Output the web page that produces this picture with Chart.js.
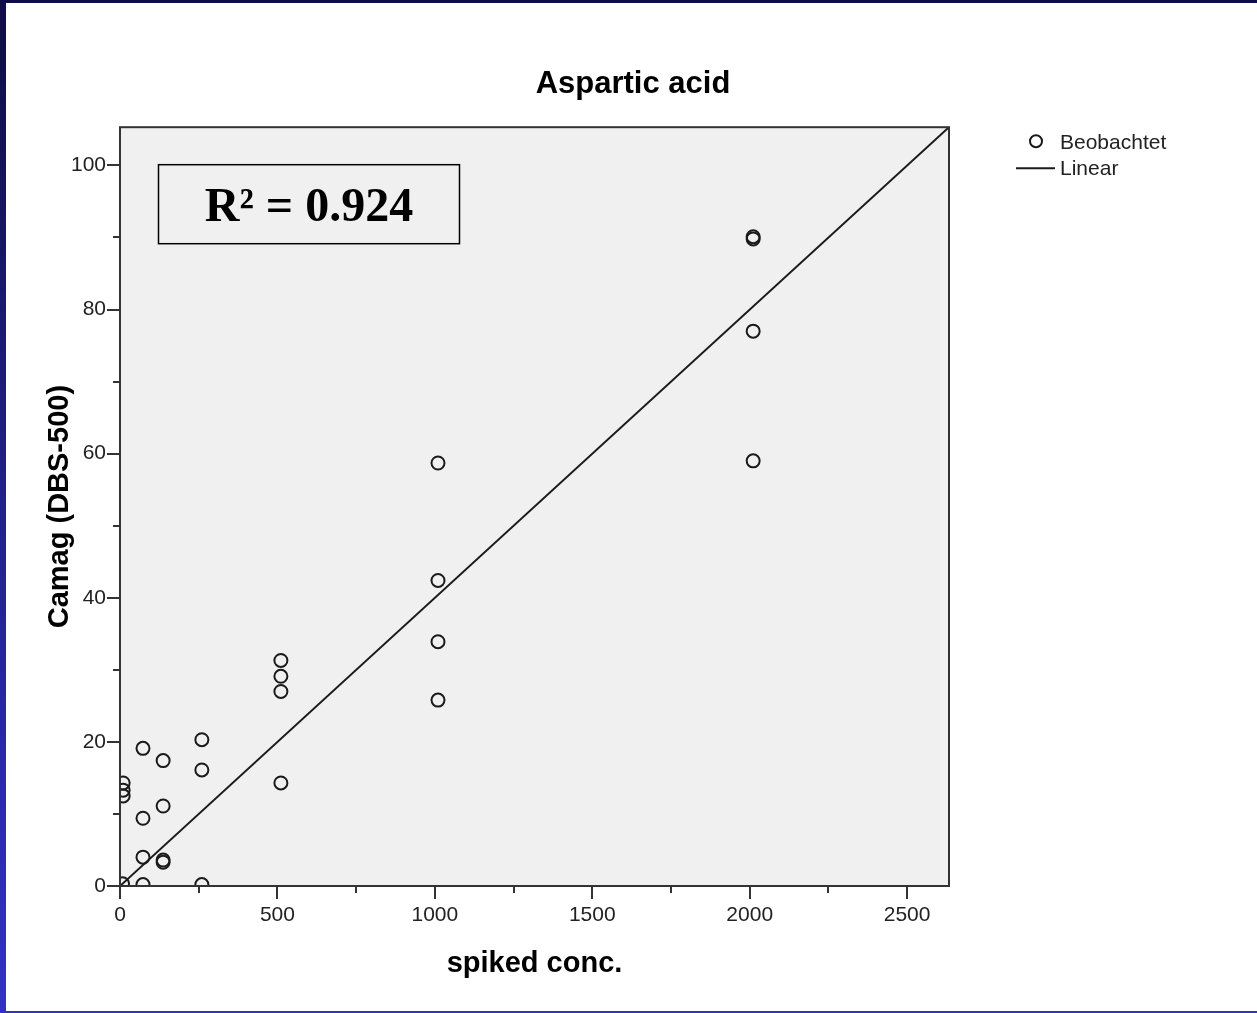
<head>
    <title>Aspartic acid</title>
    <style>
        body { margin: 0; background: #fff; overflow: hidden; }
        #myChart { position: absolute; left: 0; top: 0; }
        .band { position: absolute; }
    </style>
</head>

<body>

    <canvas id="myChart" width="1257" height="1013"></canvas>
    <div class="band" style="left:0; top:0; width:1257px; height:3px; background:#0f0c46;"></div>
    <div class="band" style="left:0; top:0; width:6px; height:1013px; background:linear-gradient(#0f0c46, #22208c 50%, #3232c2);"></div>
    <div class="band" style="left:0; top:1011px; width:1257px; height:2px; background:#3333bb;"></div>

    <script src="https://cdn.jsdelivr.net/npm/chart.js"></script>

    <script>
        // values
        const spikedConc = [8, 10, 10, 10, 73, 73, 73, 73, 137, 137, 137, 137, 260, 260, 260, 511, 511, 511, 511, 1010, 1010, 1010, 1010, 2011, 2011, 2011, 2011];
        const camag      = [0.3, 14.3, 13.3, 12.5, 19.1, 9.4, 4.0, 0.2, 17.4, 11.1, 3.6, 3.3, 20.3, 16.1, 0.2, 31.3, 29.1, 27.0, 14.3, 58.7, 42.4, 33.9, 25.8, 90.1, 89.8, 77.0, 59.0];

        // fitted line end points (as drawn)
        const fitX = [0, 2633];
        const fitY = [0, 105.3];

        const xTicks = [0, 250, 500, 750, 1000, 1250, 1500, 1750, 2000, 2250, 2500];
        const yTicks = [0, 10, 20, 30, 40, 50, 60, 70, 80, 90, 100];
        const xMax = 2633;
        const yMax = 105.3;
        const rSquared = "R\u00B2 = 0.924";

        const ink = "#1a1a1a";
        Chart.defaults.font.family = "'Liberation Sans', Arial, sans-serif";
        Chart.defaults.color = "#222";

        const points = spikedConc.map((x, i) => ({x: x, y: camag[i]}));
        const fitLine = fitX.map((x, i) => ({x: x, y: fitY[i]}));

        const plotDeco = {
            id: "plotDeco",
            beforeDatasetsDraw(chart) {
                const {ctx, chartArea: a} = chart;
                ctx.save();
                ctx.fillStyle = "#f0f0f0";
                ctx.fillRect(a.left, a.top, a.right - a.left, a.bottom - a.top);
                ctx.restore();
            },
            afterDatasetsDraw(chart) {
                const {ctx, chartArea: a} = chart;
                const xs = chart.scales.x, ys = chart.scales.y;
                ctx.save();

                // frame
                ctx.strokeStyle = "#333";
                ctx.lineWidth = 2;
                ctx.strokeRect(a.left, a.top, a.right - a.left, a.bottom - a.top);

                // minor ticks
                ctx.beginPath();
                xTicks.filter(v => v % 500 !== 0).forEach(v => {
                    const px = Math.round(xs.getPixelForValue(v));
                    ctx.moveTo(px, a.bottom);
                    ctx.lineTo(px, a.bottom + 7);
                });
                yTicks.filter(v => v % 20 !== 0).forEach(v => {
                    const py = Math.round(ys.getPixelForValue(v));
                    ctx.moveTo(a.left - 7, py);
                    ctx.lineTo(a.left, py);
                });
                ctx.stroke();

                // R² box
                const bx = a.left + 38, by = a.top + 37;
                ctx.strokeStyle = "#000";
                ctx.lineWidth = 1.5;
                ctx.strokeRect(bx + 0.5, by + 0.5, 301, 79);
                ctx.fillStyle = "#000";
                ctx.font = "bold 48px 'Liberation Serif', 'Times New Roman', serif";
                ctx.textAlign = "center";
                ctx.textBaseline = "alphabetic";
                ctx.fillText(rSquared, bx + 151, by + 57);

                // legend
                const lx = a.right + 67;
                ctx.strokeStyle = ink;
                ctx.lineWidth = 2;
                ctx.beginPath();
                ctx.arc(lx + 20, a.top + 14, 6, 0, Math.PI * 2);
                ctx.stroke();
                ctx.beginPath();
                ctx.moveTo(lx, a.top + 41);
                ctx.lineTo(lx + 39, a.top + 41);
                ctx.stroke();
                ctx.fillStyle = "#222";
                ctx.font = "21px 'Liberation Sans', Arial, sans-serif";
                ctx.textAlign = "left";
                ctx.textBaseline = "middle";
                ctx.fillText(chart.data.datasets[0].label, lx + 44, a.top + 16);
                ctx.fillText(chart.data.datasets[1].label, lx + 44, a.top + 42);

                ctx.restore();
            }
        };

        new Chart(document.getElementById("myChart"), {
            type: "scatter",
            data: {
                datasets: [
                    {
                        label: "Beobachtet",
                        data: points,
                        pointRadius: 6.5,
                        pointHoverRadius: 6.5,
                        pointBorderWidth: 2,
                        borderColor: ink,
                        backgroundColor: "rgba(0,0,0,0)",
                        clip: 0
                    },
                    {
                        label: "Linear",
                        type: "line",
                        data: fitLine,
                        borderColor: ink,
                        borderWidth: 2,
                        pointRadius: 0,
                        fill: false,
                        clip: 0
                    }
                ]
            },
            options: {
                responsive: false,
                devicePixelRatio: 1,
                animation: false,
                layout: {
                    padding: {left: 9, top: 0, right: 0, bottom: 0}
                },
                scales: {
                    x: {
                        type: "linear",
                        min: 0,
                        max: xMax,
                        afterBuildTicks: s => { s.ticks = xTicks.map(v => ({value: v})); },
                        afterFit: s => { s.height = 127; },
                        border: {display: false},
                        grid: {
                            drawOnChartArea: false,
                            tickLength: 13,
                            lineWidth: 2,
                            tickColor: c => (c.tick && c.tick.value % 500 === 0) ? "#333" : "rgba(0,0,0,0)"
                        },
                        ticks: {
                            padding: 4,
                            maxRotation: 0,
                            autoSkip: false,
                            font: {size: 21},
                            callback: v => v % 500 === 0 ? String(v) : ""
                        },
                        title: {
                            display: true,
                            text: "spiked conc.",
                            color: "#000",
                            font: {size: 29, weight: "bold"},
                            padding: {top: 0, bottom: 32}
                        }
                    },
                    y: {
                        type: "linear",
                        min: 0,
                        max: yMax,
                        afterBuildTicks: s => { s.ticks = yTicks.map(v => ({value: v})); },
                        afterFit: s => { s.width = 111; },
                        border: {display: false},
                        grid: {
                            drawOnChartArea: false,
                            tickLength: 13,
                            lineWidth: 2,
                            tickColor: c => (c.tick && c.tick.value % 20 === 0) ? "#333" : "rgba(0,0,0,0)"
                        },
                        ticks: {
                            padding: 1,
                            autoSkip: false,
                            font: {size: 21},
                            callback: v => v % 20 === 0 ? String(v) : ""
                        },
                        title: {
                            display: true,
                            text: "Camag (DBS-500)",
                            color: "#000",
                            font: {size: 29, weight: "bold"},
                            padding: {top: 34, bottom: 0}
                        }
                    },
                    side: {
                        type: "linear",
                        position: "right",
                        display: true,
                        afterFit: s => { s.width = 308; },
                        border: {display: false},
                        grid: {display: false, drawTicks: false},
                        ticks: {display: false}
                    }
                },
                plugins: {
                    legend: {display: false},
                    tooltip: {enabled: false},
                    title: {
                        display: true,
                        text: "Aspartic acid",
                        color: "#000",
                        font: {size: 31, weight: "bold"},
                        padding: {top: 66, bottom: 24}
                    }
                }
            },
            plugins: [plotDeco]
        });
    </script>

</body>
